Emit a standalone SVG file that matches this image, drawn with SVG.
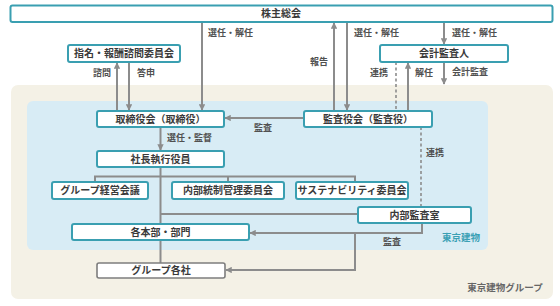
<svg xmlns="http://www.w3.org/2000/svg" width="560" height="306" viewBox="0 0 560 306">
<style>
text{font-family:"Noto Sans CJK JP","Noto Sans CJK SC",sans-serif;}
.box{fill:#fff;stroke:#3a9fb1;stroke-width:2;}
.gbox{fill:#fff;stroke:#7d7d7d;stroke-width:1.6;}
.nt{font-size:10px;font-weight:bold;fill:#3a3a3a;text-anchor:middle;}
.lb{font-size:9px;font-weight:bold;fill:#505050;}
.ln{fill:none;stroke:#8c8c8c;stroke-width:2;}
.ar{fill:none;stroke:#8c8c8c;stroke-width:2;marker-end:url(#ah);}
.ds{fill:none;stroke:#8c8c8c;stroke-width:1.6;stroke-dasharray:3 2.5;}
</style>
<defs>
<marker id="ah" viewBox="0 0 10 10" refX="9" refY="5" markerWidth="3.2" markerHeight="3.2" orient="auto" markerUnits="strokeWidth">
<path d="M0,0 L10,5 L0,10 Z" fill="#8c8c8c"/>
</marker>
</defs>
<rect x="11" y="85" width="542" height="214" rx="7" fill="#f4f1e6"/>
<rect x="27" y="101" width="461" height="149" rx="6" fill="#d8ecf5"/>
<text x="461" y="241" font-size="9.5" font-weight="bold" fill="#3aa0b4" text-anchor="middle">東京建物</text>
<text x="505" y="291" font-size="9.5" font-weight="bold" fill="#666" text-anchor="middle">東京建物グループ</text>
<g id="connectors">
<path class="ar" d="M117,111 V63"/>
<path class="ar" d="M129,62 V110"/>
<path class="ar" d="M202,22 V110"/>
<path class="ar" d="M160.5,127 V150"/>
<path class="ar" d="M304,118 H225"/>
<path class="ar" d="M334,111 V23"/>
<path class="ar" d="M347,22 V110"/>
<path class="ar" d="M444,22 V44"/>
<path class="ds" d="M396,62 V111"/>
<path class="ar" d="M408,111 V63"/>
<path class="ar" d="M444,62 V84"/>
<path class="ds" d="M421,127 V207"/>
<path class="ln" d="M160.5,167 V224 M95,182 V176.5 H355 V182 M228,176.5 V182 M160.5,214 H358 M160.5,240 V263"/>
<path class="ar" d="M422,223 V233 H250"/>
<path class="ar" d="M355,233 V270 H226"/>
<text class="lb" x="208" y="36">選任・解任</text>
<text class="lb" x="93" y="75.5">諮問</text>
<text class="lb" x="137" y="75.5">答申</text>
<text class="lb" x="254" y="131">監査</text>
<text class="lb" x="167" y="141">選任・監督</text>
<text class="lb" x="310" y="65">報告</text>
<text class="lb" x="354" y="36">選任・解任</text>
<text class="lb" x="452" y="36">選任・解任</text>
<text class="lb" x="370" y="76">連携</text>
<text class="lb" x="415" y="76">解任</text>
<text class="lb" x="452" y="75">会計監査</text>
<text class="lb" x="426" y="156">連携</text>
<text class="lb" x="383" y="245">監査</text>
</g>
<g id="kabunushi"><rect class="box" x="10.5" y="5.5" width="542" height="16.5" rx="2"/><text class="nt" x="281" y="17">株主総会</text></g>
<g id="shimei"><rect class="box" x="68" y="45" width="112" height="17" rx="2"/><text class="nt" x="124" y="57">指名・報酬諮問委員会</text></g>
<g id="kaikei"><rect class="box" x="380" y="45" width="128" height="17" rx="2"/><text class="nt" x="444" y="57">会計監査人</text></g>
<g id="torishimari"><rect class="box" x="97" y="111" width="127" height="16" rx="2"/><text class="nt" x="160.5" y="122.5">取締役会（取締役）</text></g>
<g id="kansayaku"><rect class="box" x="304" y="111" width="128" height="16" rx="2"/><text class="nt" x="368" y="122.5">監査役会（監査役）</text></g>
<g id="shacho"><rect class="box" x="97" y="151" width="127" height="16" rx="2"/><text class="nt" x="160.5" y="162.5">社長執行役員</text></g>
<g id="groupkeiei"><rect class="box" x="52" y="182" width="96" height="17" rx="2"/><text class="nt" x="100" y="194">グループ経営会議</text></g>
<g id="naibutosei"><rect class="box" x="172" y="182" width="112" height="17" rx="2"/><text class="nt" x="228" y="194">内部統制管理委員会</text></g>
<g id="sustainability"><rect class="box" x="296" y="182" width="112" height="17" rx="2"/><text class="nt" x="352" y="194">サステナビリティ委員会</text></g>
<g id="naibukansa"><rect class="box" x="358" y="207" width="113" height="16" rx="2"/><text class="nt" x="414.5" y="218.5">内部監査室</text></g>
<g id="kakuhonbu"><rect class="box" x="72" y="224" width="177" height="16" rx="2"/><text class="nt" x="160.5" y="235.5">各本部・部門</text></g>
<g id="groupkakusha"><rect class="gbox" x="97" y="263" width="128" height="15" rx="2"/><text class="nt" x="161" y="274">グループ各社</text></g>
</svg>
